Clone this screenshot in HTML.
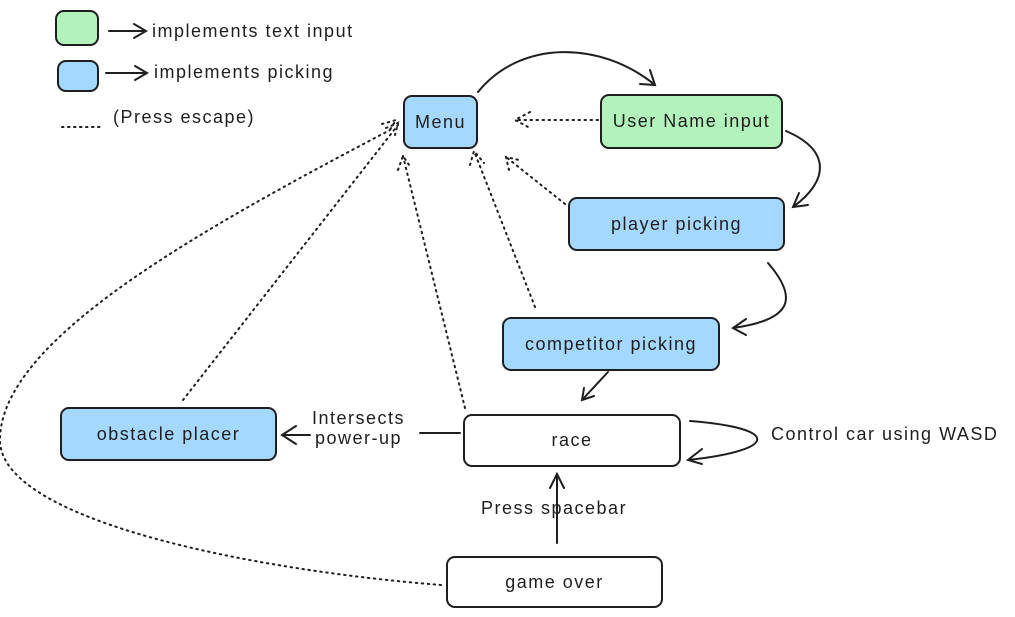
<!DOCTYPE html>
<html><head><style>
body{margin:0;width:1015px;height:617px;background:#fff;position:relative;overflow:hidden;font-family:"Liberation Sans",sans-serif;color:#1e1e1e}
.b{position:absolute;border:2px solid #1e1e1e;border-radius:9px;box-sizing:border-box;display:flex;align-items:center;justify-content:center;font-size:18px;letter-spacing:1.5px}
.bl{background:#a5d8ff}.gr{background:#b2f2bb}.wh{background:#fff}
.t{position:absolute;font-size:18px;letter-spacing:1.5px;white-space:nowrap;line-height:20px}
svg{position:absolute;left:0;top:0}
</style></head><body>
<svg width="1015" height="617" fill="none" stroke="#1e1e1e" stroke-width="2" stroke-linecap="round">
<g>
<path d="M109 31 H146 M134 24 L146 31 L134 38"/>
<path d="M106 73 H147 M135 66 L147 73 L135 80"/>
<path d="M478 92 C520 40 600 40 655 85 M640 84 L655 85 L650 70"/>
<path d="M786 131 C830 150 830 180 793 207 M799 193 L793 207 L808 205"/>
<path d="M768 263 C800 300 790 320 733 328 M746 319 L733 328 L746 335"/>
<path d="M608 372 L582 400 M584 388 L582 400 L594 396"/>
<path d="M557 543 V474 M550 488 L557 474 L564 488"/>
<path d="M460 433 H420 M310 435 H282 M296 426 L282 435 L296 444"/>
<path d="M690 421 C780 428 780 450 688 460 M702 449 L688 460 L702 464"/>
</g>
<g stroke-dasharray="1.5 4.5">
<path d="M62 127 H103"/>
<path d="M598 120 H515 M530 112 L515 120 L530 128"/>
<path d="M565 204 L506 157 M509 170 L506 157 L519 160"/>
<path d="M535 307 L474 151 M470 165 L474 151 L484 163"/>
<path d="M465 408 L403 156 M398 170 L403 156 L411 168"/>
<path d="M183 400 L398 125 M386 128 L398 123 L395 135"/>
<path d="M441 585 C250 570 0 520 0 440 C0 340 200 230 390 130 M382 124 L396 120 L388 133"/>
</g>
</svg>
<div class="b gr" style="left:55px;top:10px;width:44px;height:36px"></div>
<div class="b bl" style="left:57px;top:60px;width:42px;height:32px"></div>
<div class="t" style="left:152px;top:21px">implements text input</div>
<div class="t" style="left:154px;top:62px">implements picking</div>
<div class="t" style="left:113px;top:107px">(Press escape)</div>
<div class="b bl" style="left:403px;top:95px;width:75px;height:54px">Menu</div>
<div class="b gr" style="left:600px;top:94px;width:183px;height:55px">User Name input</div>
<div class="b bl" style="left:568px;top:197px;width:217px;height:54px">player picking</div>
<div class="b bl" style="left:502px;top:317px;width:218px;height:54px">competitor picking</div>
<div class="b wh" style="left:463px;top:414px;width:218px;height:53px">race</div>
<div class="b bl" style="left:60px;top:407px;width:217px;height:54px">obstacle placer</div>
<div class="b wh" style="left:446px;top:556px;width:217px;height:52px">game over</div>
<div class="t" style="left:312px;top:408px;text-align:center">Intersects<br>power-up</div>
<div class="t" style="left:771px;top:424px">Control car using WASD</div>
<div class="t" style="left:481px;top:498px">Press spacebar</div>
</body></html>
